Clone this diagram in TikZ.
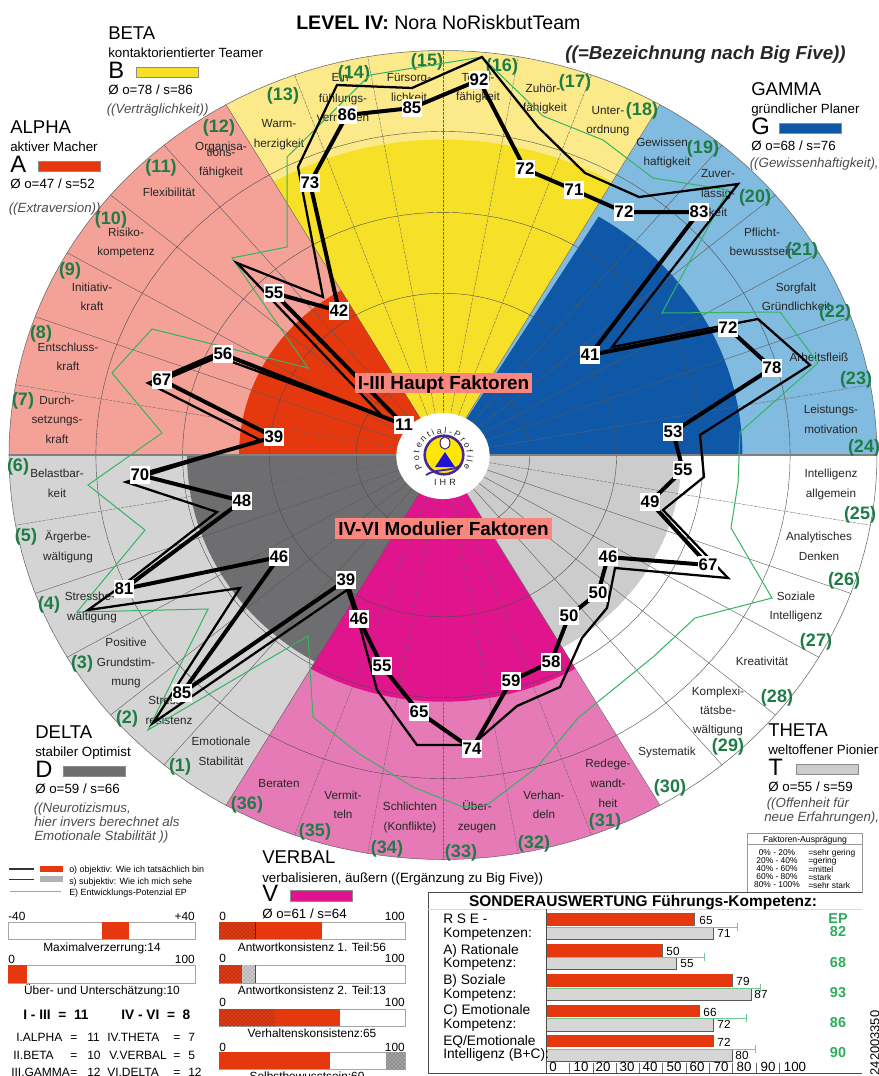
\documentclass[tikz,border=0pt]{standalone}
\usepackage{fontspec}
\setmainfont{Liberation Sans}
\usetikzlibrary{patterns,decorations.text}
\definecolor{aOut}{RGB}{244,161,152}\definecolor{aIn}{RGB}{230,56,14}
\definecolor{bOut}{RGB}{251,233,138}\definecolor{bIn}{RGB}{247,225,40}
\definecolor{gOut}{RGB}{130,187,224}\definecolor{gIn}{RGB}{15,88,168}
\definecolor{tIn}{RGB}{204,204,204}
\definecolor{vOut}{RGB}{230,122,182}\definecolor{vIn}{RGB}{224,20,140}
\definecolor{dOut}{RGB}{212,212,212}\definecolor{dIn}{RGB}{110,110,112}
\definecolor{grn}{RGB}{30,125,70}\definecolor{eline}{RGB}{50,180,100}
\definecolor{epg}{RGB}{45,175,90}\definecolor{sal}{RGB}{250,135,125}
\definecolor{purp}{RGB}{70,40,150}
\def\CX{443}\def\CY{455}\def\RX{434}\def\RY{404.5}
\newcounter{tc}
\newcommand\capc[1]{\rule{0pt}{.72em}\smash{#1}}
\newcommand\parc[1]{\rule{0pt}{.52em}\smash{#1}}
\newcommand\sect[4]{\fill[#4] plot[domain=#1:#2,samples=30] ({\CX+\RX*#3*cos(\x)},{\CY-\RY*#3*sin(\x)}) -- (\CX,\CY) -- cycle;}
\newcommand\ST[3]{\stepcounter{tc}\node[seclab] (t\thetc) at (#1,#2) {\capc{#3}};}
\newcommand\GL[3]{\stepcounter{tc}\node[grnlab] (t\thetc) at (#1,#2) {\parc{(#3)}};}
\newcommand\TX[5][west]{\stepcounter{tc}\node[anchor=#1,inner sep=0pt,font=#4] (t\thetc) at (#2,#3) {\capc{#5}};}
\newcommand\fs[1]{\fontsize{#1}{#1}\selectfont}
\newcommand\Head[9]{%
  \TX{#1}{#2}{\fs{13.9}}{#3}%
  \TX{#1}{#2+20}{\fs{10}}{#4}%
  \TX{#1}{#2+37}{\fs{17.8}}{#5}%
  \fill[#6,draw=black!45,line width=.3pt] (#1+28,#2+34) rectangle (#1+90,#2+44);%
  \TX{#1}{#2+57}{\fs{10}}{#7}%
  \TX{#1-1.5}{#2+#8}{\fs{10}\itshape\color{black!70}}{#9}%
}
\tikzset{
  seclab/.style={inner sep=0pt,font=\fs{8.8},text=black!85},
  grnlab/.style={inner sep=0pt,font=\fs{13.5}\bfseries,text=grn},
  valbox/.style={fill=white,inner sep=0pt,minimum width=15pt,minimum height=13.5pt,font=\fs{12.6}\bfseries},
  objline/.style={line width=3pt,black},
  subline/.style={line width=1.7pt,black},
  epline/.style={line width=.75pt,eline},
  gridl/.style={line width=.3pt,black!70},
  radl/.style={line width=.3pt,black!65},
  raddash/.style={line width=.3pt,black!60,dash pattern=on 2.2pt off .8pt},
  barbox/.style={draw=black!35,fill=white,line width=.4pt},
  banner/.style={fill=sal,inner sep=0pt,font=\fs{14.2}\bfseries},
}
\begin{document}
\begin{tikzpicture}[x=.75pt,y=-.75pt]
\useasboundingbox (0,0) rectangle (879,1076);
% ---- sectors
\sect{0}{60}{1}{gOut}\sect{60}{120}{1}{bOut}\sect{120}{180}{1}{aOut}
\sect{180}{240}{1}{dOut}\sect{240}{300}{1}{vOut}\sect{300}{360}{1}{white}
\sect{0}{58.7}{.69}{gIn}\sect{60}{120}{.78}{bIn}\sect{120}{180}{.47}{aIn}
\sect{180}{240}{.59}{dIn}\sect{240}{300}{.61}{vIn}\sect{300}{360}{.55}{tIn}
% ---- grid
\foreach \r in {.2,.4,.6,.8}{\draw[gridl] plot[domain=0:360,samples=121] ({\CX+\RX*\r*cos(\x)},{\CY-\RY*\r*sin(\x)});}
\draw[line width=.4pt,black!60] plot[domain=0:360,samples=181] ({\CX+\RX*cos(\x)},{\CY-\RY*sin(\x)});
\foreach \a in {20,30,40,50,60,120,130,140,150,160,200,210,220,230,240,300,310,320,330,340}
  {\draw[radl] ({\CX+\RX*.1*cos(\a)},{\CY-\RY*.1*sin(\a)}) -- ({\CX+\RX*cos(\a)},{\CY-\RY*sin(\a)});}
\foreach \a in {10,70,80,90,100,110,170,190,250,260,270,280,290,350}
  {\draw[raddash] ({\CX+\RX*.1*cos(\a)},{\CY-\RY*.1*sin(\a)}) -- ({\CX+\RX*cos(\a)},{\CY-\RY*sin(\a)});}
\draw[line width=1pt,black!50] (9,455) -- (877,455);
% ---- logo
\fill[white] (443,456) ellipse [x radius=35pt,y radius=32.3pt];
\fill[yellow!90!orange] (444,455) circle [radius=14.5pt];
\draw[purp,line width=1.9pt] (444,455) circle [radius=14.5pt];
\fill[white,draw=purp,line width=.8pt] (445,443) ellipse [x radius=3.7pt,y radius=4.6pt];
\fill[blue!55!purp] (445,452) -- (455,467) -- (435,467) -- cycle;
\draw[purp,line width=1.4pt] (426,475) .. controls (436,468) and (452,472) .. (461,465);
\path[decorate,decoration={text along path,text align={fit to path},text={|\fs{6.6}\color{black!85}|Potential-Profile}}] plot[domain=212:-32,samples=40] ({443+24*cos(\x)},{456-22.5*sin(\x)});
\node[inner sep=0pt,font=\fs{6.8}\color{black!85}] (ihr) at (445,482) {I\,\,H\,\,R};
% ---- sector texts
\ST{221}{146}{Organisa-}\ST{221}{152}{tions-}\ST{221}{171}{fähigkeit}
\ST{169}{192}{Flexibilität}\ST{126}{232}{Risiko-}\ST{126}{251}{kompetenz}
\ST{92}{287}{Initiativ-}\ST{92}{306}{kraft}\ST{68}{347}{Entschluss-}\ST{68}{366}{kraft}
\ST{57}{400}{Durch-}\ST{57}{419}{setzungs-}\ST{57}{439}{kraft}
\ST{279}{123}{Warm-}\ST{279}{143}{herzigkeit}
\ST{342}{77}{Ein-}\ST{343}{98}{fühlungs-}\ST{343}{117}{vermögen}
\ST{409}{77}{Fürsorg-}\ST{409}{97}{lichkeit}\ST{478}{77}{Team-}\ST{478}{96}{fähigkeit}
\ST{543}{88}{Zuhör-}\ST{545}{107}{fähigkeit}\ST{608}{110}{Unter-}\ST{608}{129}{ordnung}
\ST{664}{142}{Gewissen-}\ST{667}{161}{haftigkeit}
\ST{718}{173}{Zuver-}\ST{718}{193}{lässig-}\ST{718}{212}{keit}
\ST{762}{232}{Pflicht-}\ST{762}{251}{bewusstsein}
\ST{796}{287}{Sorgfalt}\ST{796}{306}{Gründlichkeit}\ST{819}{357}{Arbeitsfleiß}
\ST{831}{409}{Leistungs-}\ST{831}{429}{motivation}
\ST{831}{473}{Intelligenz}\ST{831}{493}{allgemein}
\ST{819}{536}{Analytisches}\ST{819}{556}{Denken}
\ST{796}{596}{Soziale}\ST{796}{615}{Intelligenz}\ST{762}{661}{Kreativität}
\ST{718}{691}{Komplexi-}\ST{718}{710}{tätsbe-}\ST{718}{729}{wältigung}
\ST{667}{751}{Systematik}
\ST{608}{763}{Redege-}\ST{608}{783}{wandt-}\ST{608}{803}{heit}
\ST{544}{795}{Verhan-}\ST{544}{814}{deln}\ST{477}{806}{Über-}\ST{477}{826}{zeugen}
\ST{410}{806}{Schlichten}\ST{410}{826}{(Konflikte)}\ST{343}{795}{Vermit-}\ST{343}{814}{teln}
\ST{279}{783}{Beraten}\ST{221}{741}{Emotionale}\ST{221}{761}{Stabilität}
\ST{167}{700}{Stress-}\ST{169}{720}{resistenz}
\ST{126}{642}{Positive}\ST{126}{662}{Grundstim-}\ST{126}{681}{mung}
\ST{90}{596}{Stressbe-}\ST{92}{616}{wältigung}\ST{68}{536}{Ärgerbe-}\ST{68}{556}{wältigung}
\ST{57}{473}{Belastbar-}\ST{57}{493}{keit}
% ---- green numbers
\GL{180}{767}{1}\GL{127}{719}{2}\GL{82}{664}{3}\GL{49}{605}{4}\GL{26}{537}{5}\GL{18}{467}{6}
\GL{23}{401}{7}\GL{41}{334}{8}\GL{70}{271}{9}\GL{111}{220}{10}\GL{161}{168}{11}\GL{219}{128}{12}
\GL{283}{96}{13}\GL{354}{74}{14}\GL{427}{62}{15}\GL{502}{67}{16}\GL{575}{83}{17}\GL{642}{111}{18}
\GL{703}{149}{19}\GL{755}{198}{20}\GL{802}{251}{21}\GL{835}{313}{22}\GL{856}{380}{23}\GL{864}{448}{24}
\GL{860}{515}{25}\GL{844}{581}{26}\GL{816}{642}{27}\GL{777}{698}{28}\GL{728}{747}{29}\GL{670}{788}{30}
\GL{605}{822}{31}\GL{534}{844}{32}\GL{461}{853}{33}\GL{387}{849}{34}\GL{315}{832}{35}\GL{247}{805}{36}
% ---- polygons
\draw[epline] plot coordinates {(370,75)(287,157)(287,247)(232,258)(308,368)(152,329)(112,373)(162,433)(88,485)(145,530)(77,612)(208,609)(148,730)(308,636)(313,717)(358,753)(413,787)(463,807)(487,805)(537,767)(578,718)(653,657)(695,618)(772,598)(731,528)(738,483)(740,432)(818,363)(780,312)(662,313)(728,190)(653,178)(603,140)(543,116)(482,57)(370,75)};
\draw[subline,miter limit=6] plot coordinates {(298,167)(323,297)(237,263)(383,417)(213,355)(148,383)(260,440)(126,482)(217,512)(127,582)(88,610)(240,588)(153,723)(347,590)(360,627)(377,690)(417,745)(472,745)(480,738)(517,706)(560,687)(582,638)(607,608)(615,568)(728,578)(663,510)(704,477)(700,435)(810,365)(758,319)(612,347)(738,184)(639,197)(585,173)(538,127)(482,57)(412,88)(337,85)(298,167)};
\foreach \x/\y/\v [count=\i] in {404/425/11,223/354/56,162/380/67,274/437/39,140/475/70,242/501/48,124/589/81,279/557/46,182/693/85,346/580/39,359/619/46,382/666/55,419/712/65,472/749/74,511/681/59,551/662/58,569/616/50,598/593/50,608/557/46,708/565/67,650/502/49,683/470/55,673/432/53,772/368/78,728/328/72,590/355/41,699/212/83,624/212/72,574/190/71,525/169/72,479/80/92,412/108/85,347/115/86,310/183/73,339/311/42,274/293/55}
  {\coordinate (o\i) at (\x,\y);}
\draw[objline] (o1) foreach \i in {2,...,36}{ -- (o\i)} -- cycle;
\foreach \x/\y/\v [count=\i] in {404/425/11,223/354/56,162/380/67,274/437/39,140/475/70,242/501/48,124/589/81,279/557/46,182/693/85,346/580/39,359/619/46,382/666/55,419/712/65,472/749/74,511/681/59,551/662/58,569/616/50,598/593/50,608/557/46,708/565/67,650/502/49,683/470/55,673/432/53,772/368/78,728/328/72,590/355/41,699/212/83,624/212/72,574/190/71,525/169/72,479/80/92,412/108/85,347/115/86,310/183/73,339/311/42,274/293/55}
  {\node[valbox] (l\i) at (\x,\y) {\v};}
% ---- banners
\node[banner,minimum width=132.5pt,minimum height=15pt] (bn1) at (443.5,382.5) {\capc{I-III Haupt Faktoren}};
\node[banner,minimum width=163pt,minimum height=15.6pt] (bn2) at (443.5,528.5) {\capc{IV-VI Modulier Faktoren}};
% ---- titles
\TX{296}{22}{\fs{14.7}}{\textbf{LEVEL IV:} Nora NoRiskbutTeam}
\TX{565}{53}{\fs{14.1}\bfseries\itshape\color{black!85}}{((=Bezeichnung nach Big Five))}
\Head{108}{33}{BETA}{kontaktorientierter Teamer}{B}{bIn}{Ø o=78 / s=86}{76}{((Verträglichkeit))}
\Head{10}{127}{ALPHA}{aktiver Macher}{A}{aIn}{Ø o=47 / s=52}{81}{((Extraversion))}
\Head{751}{89}{GAMMA}{gründlicher Planer}{G}{gIn}{Ø o=68 / s=76}{74}{((Gewissenhaftigkeit),}
\Head{35}{732}{DELTA}{stabiler Optimist}{D}{dIn}{Ø o=59 / s=66}{76}{((Neurotizismus,}
\TX{34}{822}{\fs{10}\itshape\color{black!70}}{hier invers berechnet als}
\TX{34}{836}{\fs{10}\itshape\color{black!70}}{Emotionale Stabilität ))}
\Head{768}{730}{THETA}{weltoffener Pionier}{T}{tIn}{Ø o=55 / s=59}{73}{((Offenheit für}
\TX{764}{817}{\fs{10}\itshape\color{black!70}}{neue Erfahrungen),}
\TX{262}{857}{\fs{13.9}}{VERBAL}
\TX{262}{878}{\fs{10}}{verbalisieren, äußern ((Ergänzung zu Big Five))}
\TX{262}{893}{\fs{17.8}}{V}
\fill[vIn,draw=black!45,line width=.3pt] (290,890) rectangle (352,901);
\TX{262}{914}{\fs{10}}{Ø o=61 / s=64}
% ---- legend
\draw[line width=1pt,black!80] (9,869) -- (34,869);
\fill[aIn] (40,866) rectangle (63,872);
\TX{69}{869}{\fs{6.7}}{o) objektiv: Wie ich tatsächlich bin}
\draw[line width=.6pt,black!80] (9,879) -- (34,879);
\fill[black!30] (40,876) rectangle (63,882);
\TX{69}{881}{\fs{6.7}}{s) subjektiv: Wie ich mich sehe}
\draw[line width=.6pt,eline!75] (10,891) -- (61,891);
\TX{69}{892}{\fs{6.7}}{E) Entwicklungs-Potenzial EP}
% ---- left bars
\TX{8}{916}{\fs{8.9}}{-40}\TX[east]{195}{916}{\fs{8.9}}{+40}
\draw[barbox] (8,922) rectangle (195,939);\fill[aIn] (102,922) rectangle (129,939);
\TX[center]{102}{947}{\fs{8.9}}{Maximalverzerrung:14}
\TX{8}{959}{\fs{8.9}}{0}\TX[east]{195}{959}{\fs{8.9}}{100}
\draw[barbox] (8,965) rectangle (195,983);\fill[aIn] (8,965) rectangle (27,983);
\TX[center]{102}{990}{\fs{8.9}}{Über- und Unterschätzung:10}
\TX{23}{1015}{\fs{10.3}\bfseries}{I - III\ \ =\ \ 11}
\TX{121}{1015}{\fs{10.3}\bfseries}{IV - VI\ \ =\ \ 8}
\TX{16}{1037}{\fs{9}}{I.ALPHA}\TX{70}{1037}{\fs{9}}{=}\TX{87}{1037}{\fs{9}}{11}\TX{107}{1037}{\fs{9}}{IV.THETA}\TX{173}{1037}{\fs{9}}{=}\TX{188}{1037}{\fs{9}}{7}
\TX{13}{1055}{\fs{9}}{II.BETA}\TX{70}{1055}{\fs{9}}{=}\TX{87}{1055}{\fs{9}}{10}\TX{109}{1055}{\fs{9}}{V.VERBAL}\TX{173}{1055}{\fs{9}}{=}\TX{188}{1055}{\fs{9}}{5}
\TX{11}{1072}{\fs{9}}{III.GAMMA}\TX{70}{1072}{\fs{9}}{=}\TX{87}{1072}{\fs{9}}{12}\TX{107}{1072}{\fs{9}}{VI.DELTA}\TX{173}{1072}{\fs{9}}{=}\TX{188}{1072}{\fs{9}}{12}
% ---- right bars
\TX{219}{916}{\fs{8.9}}{0}\TX[east]{405}{916}{\fs{8.9}}{100}
\draw[barbox] (219,922) rectangle (405,939);
\fill[aIn] (219,922) rectangle (321,939);
\fill[pattern=crosshatch dots,pattern color=black!80] (219,922) rectangle (255,939);
\draw[line width=.5pt,black!80] (255,922) -- (255,939);\draw[line width=.5pt,black!60] (321,922) -- (321,939);
\TX[center]{312}{947}{\fs{8.9}}{Antwortkonsistenz 1. Teil:56}
\TX{219}{958}{\fs{8.9}}{0}\TX[east]{405}{958}{\fs{8.9}}{100}
\draw[barbox] (219,965) rectangle (405,983);
\fill[aIn] (219,965) rectangle (242,983);
\fill[pattern=crosshatch dots,pattern color=black!80] (219,965) rectangle (242,983);
\fill[black!20] (242,965) rectangle (255,983);
\fill[pattern=crosshatch dots,pattern color=black!60] (242,965) rectangle (255,983);
\draw[line width=.4pt,black!70] (255,965) -- (255,983);
\TX[center]{312}{990}{\fs{8.9}}{Antwortkonsistenz 2. Teil:13}
\TX{219}{1002}{\fs{8.9}}{0}\TX[east]{405}{1002}{\fs{8.9}}{100}
\draw[barbox] (219,1009) rectangle (405,1026);
\fill[aIn] (219,1009) rectangle (340,1026);
\fill[pattern=crosshatch dots,pattern color=black!80] (219,1009) rectangle (275,1026);
\TX[center]{312}{1033}{\fs{8.9}}{Verhaltenskonsistenz:65}
\TX{219}{1047}{\fs{8.9}}{0}\TX[east]{405}{1047}{\fs{8.9}}{100}
\draw[barbox] (219,1052) rectangle (405,1069);
\fill[aIn] (219,1052) rectangle (330,1069);
\fill[black!35] (386,1052) rectangle (405,1069);
\fill[pattern=crosshatch dots,pattern color=black!80] (386,1052) rectangle (405,1069);
\TX[center]{307}{1076}{\fs{8.9}}{Selbstbewusstsein:60}
% ---- Faktoren box
\draw[line width=.4pt,black!40] (747,833) rectangle (862,892);
\draw[line width=.4pt,black!40] (747,844) -- (862,844);
\TX[center]{805}{839}{\fs{6.5}}{Faktoren-Ausprägung}
\foreach \yy/\aa/\bb [count=\k] in {853/0\% - 20\%/=sehr gering,861/20\% - 40\%/=gering,869/40\% - 60\%/=mittel,877/60\% - 80\%/=stark,885/80\% - 100\%/=sehr stark}
 {\node[inner sep=0pt,font=\fs{6.3}] (fa\k) at (777,\yy) {\aa};
  \node[anchor=west,inner sep=0pt,font=\fs{6.3}] (fb\k) at (808,\yy) {\bb};}
% ---- Sonderauswertung
\fill[white] (428,892) rectangle (862,1076);
\draw[line width=.5pt,black!70] (862,892) -- (428,892) -- (428,1073) -- (862,1073);
\draw[line width=.3pt,black!15] (428,909) -- (862,909);
\TX[center]{643}{901}{\fs{11.6}\bfseries}{SONDERAUSWERTUNG Führungs-Kompetenz:}
\foreach \ya/\yb/\yc/\yd/\ro/\gr/\ep/\va/\vb/\xa/\xb in {913/926/927/939/694/713/737/65/71/706/724,944/957/957/969/662/676/704/50/55/673/687,974/987/988/1000/732/751/760/79/87/743/761,1005/1017/1018/1031/699/713/746/66/72/710/724,1035/1047/1049/1061/713/732/755/72/80/724/742}{
  \fill[aIn] (546,\ya) rectangle (\ro,\yb);
  \draw[line width=.3pt,black!60] (\ro,\ya) -- (\ro,\yb);
  \fill[black!16] (546,\yc) rectangle (\gr,\yd);
  \draw[line width=.5pt,black!65] (546,\yd) -- (\gr,\yd) -- (\gr,\yc);
  \draw[line width=.6pt,eline!70] (546,\yc) -- (\ep,\yc) (\ep,\yc-4) -- (\ep,\yc+4);
  \node[inner sep=0pt,font=\fs{8.8}] (va\va\ro) at (\xa,\ya+7.5) {\va};
  \node[inner sep=0pt,font=\fs{8.8}] (vb\vb\gr) at (\xb,\yc+6.5) {\vb};
}
\draw[line width=.5pt,black!70] (546,909) -- (546,1073);
\TX{443}{919}{\fs{10.3}}{R S E -}\TX{443}{933}{\fs{10.3}}{Kompetenzen:}
\TX{443}{950}{\fs{10.3}}{A) Rationale}\TX{443}{963}{\fs{10.3}}{Kompetenz:}
\TX{443}{980}{\fs{10.3}}{B) Soziale}\TX{443}{994}{\fs{10.3}}{Kompetenz:}
\TX{443}{1010}{\fs{10.3}}{C) Emotionale}\TX{443}{1024}{\fs{10.3}}{Kompetenz:}
\TX{443}{1041}{\fs{10.3}}{EQ/Emotionale}\TX{443}{1054}{\fs{10.3}}{Intelligenz (B+C):}
\TX[center]{838}{918}{\fs{10.8}\bfseries\color{epg}}{EP}
\TX[center]{838}{931}{\fs{10.8}\bfseries\color{epg}}{82}
\TX[center]{838}{962}{\fs{10.8}\bfseries\color{epg}}{68}
\TX[center]{838}{992}{\fs{10.8}\bfseries\color{epg}}{93}
\TX[center]{838}{1022}{\fs{10.8}\bfseries\color{epg}}{86}
\TX[center]{838}{1052}{\fs{10.8}\bfseries\color{epg}}{90}
\foreach \xx/\nn in {553/0,581/10,603/20,627/30,650/40,674/50,697/60,721/70,744/80,768/90,795/100}
  {\node[inner sep=0pt,font=\fs{10}] (ax\nn) at (\xx,1067) {\nn};}
\foreach \tk in {569,593,616,639,662,686,709,732,756,779}
  {\draw[line width=.3pt,black!60] (\tk,1063) -- (\tk,1073);}
\node[rotate=90,inner sep=0pt,font=\fs{9.7}] (serial) at (875,1043) {242003350};
\end{tikzpicture}
\end{document}
